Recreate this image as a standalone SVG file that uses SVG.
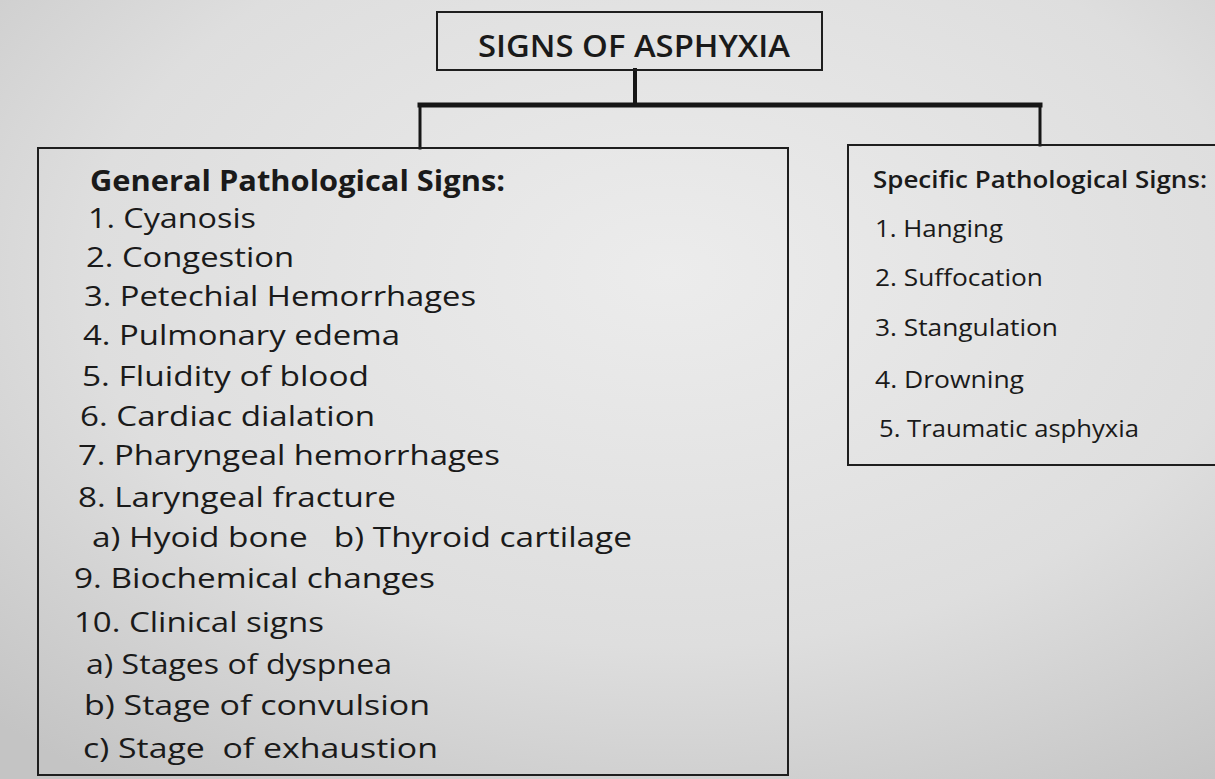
<svg xmlns="http://www.w3.org/2000/svg" width="1215" height="779" viewBox="0 0 1215 779">
<defs>
<radialGradient id="paper" cx="0.55" cy="0.35" r="0.8">
<stop offset="0" stop-color="#ececec"/>
<stop offset="0.6" stop-color="#dedede"/>
<stop offset="1" stop-color="#c4c4c4"/>
</radialGradient>
</defs>
<style>
.box{fill:none;stroke:#1e1e1e;stroke-width:2}
.con{stroke:#161616;fill:none;stroke-linecap:square}
.t{font-family:"Open Sans","Noto Sans","Liberation Sans",sans-serif;fill:#1a1a1a}
.l{font-size:28px}
.r{font-size:23px}
.h{font-weight:bold}
</style>
<rect x="0" y="0" width="1215" height="779" fill="url(#paper)"/>
<g id="connectors">
<line class="con" x1="635" y1="70" x2="635" y2="105" stroke-width="4"/>
<line class="con" x1="420" y1="105" x2="1040" y2="105" stroke-width="5"/>
<line class="con" x1="420" y1="105" x2="420" y2="148" stroke-width="3"/>
<line class="con" x1="1040" y1="105" x2="1040" y2="145" stroke-width="3"/>
</g>
<g id="title">
<rect class="box" x="437" y="12" width="385" height="58"/>
<text class="t" x="478" y="57" font-size="30" textLength="312" lengthAdjust="spacingAndGlyphs" style="font-weight:600">SIGNS OF ASPHYXIA</text>
</g>
<g id="general">
<rect class="box" x="38" y="148" width="750" height="627"/>
<text class="t l h" x="90" y="191" textLength="415" lengthAdjust="spacingAndGlyphs">General Pathological Signs:</text>
<text class="t l" x="88" y="228" textLength="168" lengthAdjust="spacingAndGlyphs">1. Cyanosis</text>
<text class="t l" x="86" y="267" textLength="208" lengthAdjust="spacingAndGlyphs">2. Congestion</text>
<text class="t l" x="84" y="306" textLength="392" lengthAdjust="spacingAndGlyphs">3. Petechial Hemorrhages</text>
<text class="t l" x="83" y="345" textLength="317" lengthAdjust="spacingAndGlyphs">4. Pulmonary edema</text>
<text class="t l" x="82" y="386" textLength="287" lengthAdjust="spacingAndGlyphs">5. Fluidity of blood</text>
<text class="t l" x="80" y="426" textLength="295" lengthAdjust="spacingAndGlyphs">6. Cardiac dialation</text>
<text class="t l" x="78" y="465" textLength="422" lengthAdjust="spacingAndGlyphs">7. Pharyngeal hemorrhages</text>
<text class="t l" x="78" y="507" textLength="318" lengthAdjust="spacingAndGlyphs">8. Laryngeal fracture</text>
<text class="t l" x="92" y="547" textLength="540" lengthAdjust="spacingAndGlyphs" xml:space="preserve">a) Hyoid bone   b) Thyroid cartilage</text>
<text class="t l" x="74" y="588" textLength="361" lengthAdjust="spacingAndGlyphs">9. Biochemical changes</text>
<text class="t l" x="74" y="632" textLength="250" lengthAdjust="spacingAndGlyphs">10. Clinical signs</text>
<text class="t l" x="86" y="674" textLength="306" lengthAdjust="spacingAndGlyphs">a) Stages of dyspnea</text>
<text class="t l" x="84" y="715" textLength="346" lengthAdjust="spacingAndGlyphs">b) Stage of convulsion</text>
<text class="t l" x="83" y="758" textLength="355" lengthAdjust="spacingAndGlyphs" xml:space="preserve">c) Stage  of exhaustion</text>
</g>
<g id="specific">
<rect class="box" x="848" y="145" width="380" height="320"/>
<text class="t r" x="873" y="188" textLength="334" lengthAdjust="spacingAndGlyphs" style="font-weight:600">Specific Pathological Signs:</text>
<text class="t r" x="875" y="237" textLength="128" lengthAdjust="spacingAndGlyphs">1. Hanging</text>
<text class="t r" x="875" y="286" textLength="168" lengthAdjust="spacingAndGlyphs">2. Suffocation</text>
<text class="t r" x="875" y="336" textLength="183" lengthAdjust="spacingAndGlyphs">3. Stangulation</text>
<text class="t r" x="875" y="388" textLength="149" lengthAdjust="spacingAndGlyphs">4. Drowning</text>
<text class="t r" x="879" y="437" textLength="260" lengthAdjust="spacingAndGlyphs">5. Traumatic asphyxia</text>
</g>
</svg>
